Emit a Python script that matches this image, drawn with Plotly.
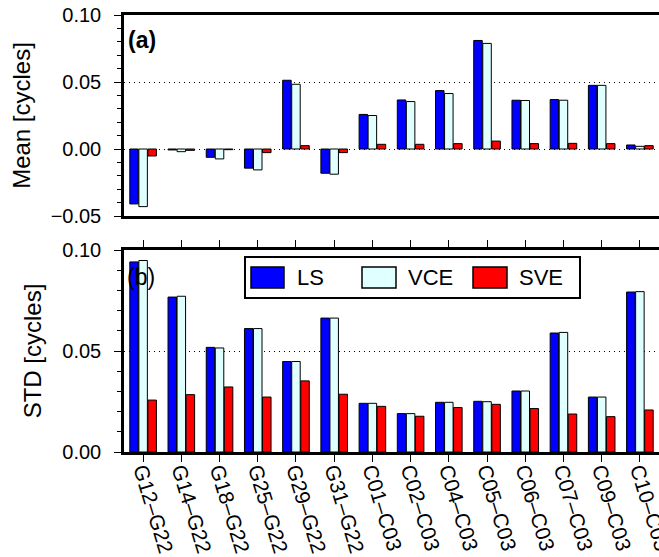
import plotly.graph_objects as go
from plotly.subplots import make_subplots

categories = ["G12–G22", "G14–G22", "G18–G22", "G25–G22", "G29–G22", "G31–G22",
              "C01–C03", "C02–C03", "C04–C03", "C05–C03", "C06–C03", "C07–C03",
              "C09–C03", "C10–C03"]

mean_ls = [-0.041, -0.0007, -0.0062, -0.0143, 0.0513, -0.0181, 0.0258,
           0.0366, 0.0436, 0.0810, 0.0364, 0.0369, 0.0475, 0.0030]
mean_vce = [-0.043, -0.0020, -0.0074, -0.0156, 0.0483, -0.0188, 0.0250,
            0.0354, 0.0414, 0.0788, 0.0362, 0.0364, 0.0475, 0.0020]
mean_sve = [-0.0052, -0.0010, -0.0005, -0.0027, 0.0025, -0.0027, 0.0035,
            0.0035, 0.0040, 0.0059, 0.0040, 0.0042, 0.0040, 0.0025]

std_ls = [0.0941, 0.0767, 0.0518, 0.0611, 0.0448, 0.0663, 0.0241,
          0.0190, 0.0246, 0.0251, 0.0302, 0.0589, 0.0272, 0.0792]
std_vce = [0.0948, 0.0771, 0.0515, 0.0611, 0.0448, 0.0663, 0.0241,
           0.0190, 0.0246, 0.0249, 0.0302, 0.0592, 0.0272, 0.0794]
std_sve = [0.0257, 0.0284, 0.0322, 0.0272, 0.0352, 0.0286, 0.0226,
           0.0177, 0.0220, 0.0236, 0.0215, 0.0188, 0.0175, 0.0208]

series_names = ["LS", "VCE", "SVE"]
colors = ["#0000ff", "#e0ffff", "#ff0000"]
FONT = "Liberation Sans, Arial, Helvetica, sans-serif"

fig = make_subplots(rows=2, cols=1, shared_xaxes=False, vertical_spacing=0.0)

for vals, name, col in zip([mean_ls, mean_vce, mean_sve], series_names, colors):
    fig.add_trace(go.Bar(x=categories, y=vals, name=name, marker_color=col,
                         marker_line_color="black", marker_line_width=1,
                         showlegend=False), row=1, col=1)
for vals, name, col in zip([std_ls, std_vce, std_sve], series_names, colors):
    fig.add_trace(go.Bar(x=categories, y=vals, name=name, marker_color=col,
                         marker_line_color="black", marker_line_width=1,
                         showlegend=False), row=2, col=1)

W, H = 659, 557
ml, mr, mt, mb = 124, 0, 15, 105
ph = H - mt - mb
top_dom = [(452 - 216) / ph, 1.0]
bot_dom = [0.0, (452 - 250) / ph]

fig.update_layout(
    width=W, height=H,
    margin=dict(l=ml, r=mr, t=mt, b=mb, pad=0, autoexpand=False),
    paper_bgcolor="white", plot_bgcolor="white",
    barmode="group", bargap=0.29, bargroupgap=0.06,
    font=dict(family=FONT, size=20, color="black"),
    showlegend=False,
)

axis_common = dict(showline=True, linewidth=2.5, linecolor="black", mirror=True,
                   automargin=False)

fig.update_xaxes(row=1, col=1, showticklabels=False, ticks="", range=[-0.5, 13.5],
                 **axis_common)
fig.update_xaxes(row=2, col=1, ticks="outside", ticklen=7, tickwidth=1.2,
                 tickcolor="black", range=[-0.5, 13.5], tickangle=73,
                 ticklabelstandoff=-12,
                 tickfont=dict(size=21), **{**axis_common, "mirror": "allticks"})

grid = dict(showgrid=True, gridcolor="black", gridwidth=1, griddash="1px,4px",
            zeroline=False)
ycommon = dict(dtick=0.05, tickformat=".2f", ticks="outside", ticklen=7, tickwidth=1.2,
               tickcolor="black", ticklabelstandoff=9, tickfont=dict(size=20),
               minor=dict(dtick=0.01, ticks="outside", ticklen=4, tickcolor="black",
                          tickwidth=1, showgrid=False))
fig.update_yaxes(row=1, col=1, domain=top_dom, range=[-0.05, 0.10],
                 title=dict(text="Mean [cycles]", font=dict(size=24), standoff=14),
                 **ycommon, **grid, **axis_common)
fig.update_yaxes(row=2, col=1, domain=bot_dom, range=[0, 0.10],
                 title=dict(text="STD [cycles]", font=dict(size=24), standoff=14),
                 **ycommon, **grid, **axis_common)

def px_x(x):
    return (x - ml) / (W - ml)

def px_y(y):
    return (452 - y) / ph

# panel labels
fig.add_annotation(xref="paper", yref="paper", x=px_x(126), y=px_y(25),
                   text="<b>(a)</b>", showarrow=False,
                   xanchor="left", yanchor="top", font=dict(size=23))
fig.add_annotation(xref="paper", yref="paper", x=px_x(125), y=px_y(262),
                   text="(b)", showarrow=False,
                   xanchor="left", yanchor="top", font=dict(size=23))

# custom legend box
fig.add_shape(type="rect", xref="paper", yref="paper",
              x0=px_x(245), x1=px_x(580), y0=px_y(298), y1=px_y(257),
              line=dict(color="black", width=2), fillcolor="white", layer="above")
swatches = [(251, 284, 295), (362, 396, 406), (473, 507, 517)]
for (sx0, sx1, tx), name, col in zip(swatches, series_names, colors):
    fig.add_shape(type="rect", xref="paper", yref="paper",
                  x0=px_x(sx0), x1=px_x(sx1), y0=px_y(288), y1=px_y(267),
                  line=dict(color="black", width=1.5), fillcolor=col, layer="above")
    fig.add_annotation(xref="paper", yref="paper", x=px_x(tx), y=px_y(277.5),
                       text=name, showarrow=False, xanchor="left", yanchor="middle",
                       font=dict(size=22))

fig.write_html("out.html")
